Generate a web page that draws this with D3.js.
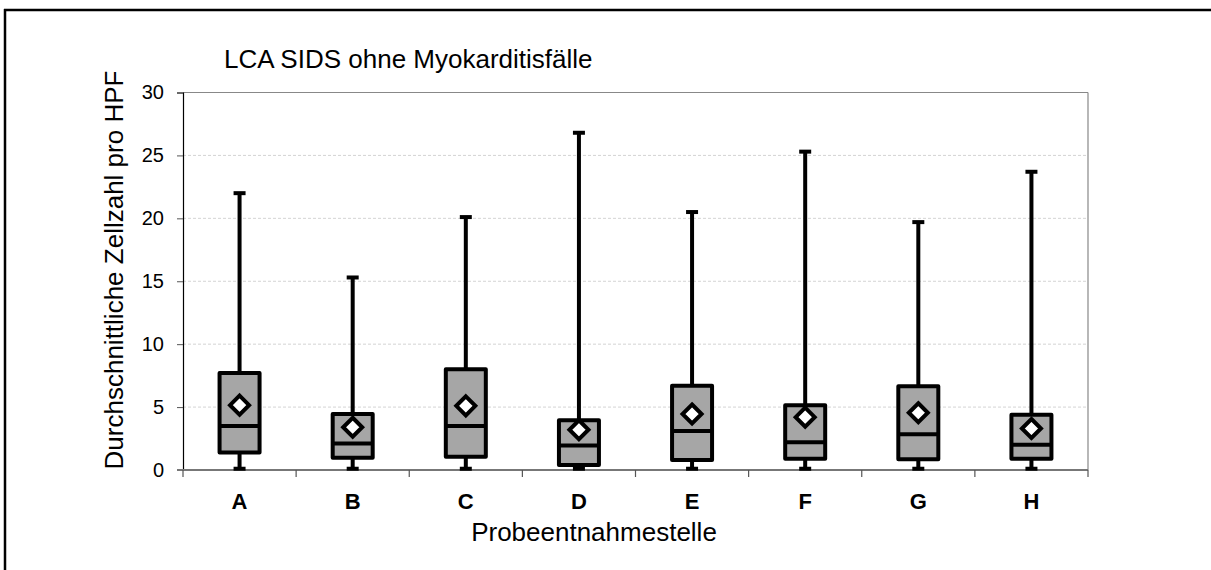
<!DOCTYPE html>
<html>
<head>
<meta charset="utf-8">
<script src="https://cdn.jsdelivr.net/npm/d3@7"></script>
<style>
  body { margin: 0; background: #fff; overflow: hidden; }
  svg { display: block; font-family: "Liberation Sans", Arial, sans-serif; }
</style>
</head>
<body>
<div id="chart"></div>
<script>
// ---- data ----
const categories = ["A", "B", "C", "D", "E", "F", "G", "H"];
const minVals    = [0.1, 0.1, 0.1, 0.1, 0.1, 0.1, 0.1, 0.1];
const q1Vals     = [1.4, 0.98, 1.05, 0.4, 0.8, 0.9, 0.85, 0.9];
const medianVals = [3.5, 2.1, 3.5, 1.95, 3.1, 2.2, 2.85, 2.0];
const q3Vals     = [7.7, 4.45, 8.0, 3.95, 6.7, 5.15, 6.65, 4.4];
const maxVals    = [22.0, 15.3, 20.1, 26.8, 20.5, 25.3, 19.7, 23.7];
const meanVals   = [5.15, 3.4, 5.1, 3.2, 4.45, 4.2, 4.55, 3.3];
const yTicks     = [0, 5, 10, 15, 20, 25, 30];

const width = 1211, height = 570;
const plot = { left: 183, right: 1088, top: 92.5, bottom: 470 };

const svg = d3.select("#chart").append("svg")
    .attr("width", width).attr("height", height);

// outer frame: only top and left edges are inside the picture
svg.append("line")
    .attr("x1", 4).attr("x2", width)
    .attr("y1", 10).attr("y2", 10)
    .attr("stroke", "#000").attr("stroke-width", 2.5);
svg.append("line")
    .attr("x1", 5).attr("x2", 5)
    .attr("y1", 9).attr("y2", height)
    .attr("stroke", "#000").attr("stroke-width", 2.5);

const x = d3.scaleBand().domain(categories).range([plot.left, plot.right]);
const y = d3.scaleLinear().domain([0, 30]).range([plot.bottom, plot.top]);

// gridlines
svg.append("g").selectAll("line")
    .data(yTicks.filter(t => t > 0 && t < 30)).enter()
    .append("line")
    .attr("x1", plot.left).attr("x2", plot.right)
    .attr("y1", d => y(d)).attr("y2", d => y(d))
    .attr("stroke", "#d4d4d4").attr("stroke-width", 1)
    .attr("stroke-dasharray", "3,2");

// plot frame (top and right)
svg.append("line")
    .attr("x1", plot.left).attr("x2", plot.right)
    .attr("y1", plot.top).attr("y2", plot.top)
    .attr("stroke", "#888").attr("stroke-width", 1.2);
svg.append("line")
    .attr("x1", plot.right).attr("x2", plot.right)
    .attr("y1", plot.top).attr("y2", plot.bottom)
    .attr("stroke", "#888").attr("stroke-width", 1.2);

// y axis
const yAxis = svg.append("g")
    .attr("transform", `translate(${plot.left},0)`)
    .call(d3.axisLeft(y).tickValues(yTicks).tickSize(6).tickPadding(13));
yAxis.select(".domain").attr("stroke", "#000").attr("stroke-width", 1.2);
yAxis.selectAll(".tick line").attr("stroke", "#555");
yAxis.selectAll("text")
    .style("font-size", "20px").style("font-family", "Liberation Sans, Arial, sans-serif")
    .attr("fill", "#000");

// x axis: ticks between categories, below the axis
svg.append("line")
    .attr("x1", plot.left - 6).attr("x2", plot.right)
    .attr("y1", plot.bottom).attr("y2", plot.bottom)
    .attr("stroke", "#777").attr("stroke-width", 2);
const bounds = categories.map(c => x(c)).concat([plot.right]);
svg.append("g").selectAll("line")
    .data(bounds).enter()
    .append("line")
    .attr("x1", d => d).attr("x2", d => d)
    .attr("y1", plot.bottom).attr("y2", plot.bottom + 7)
    .attr("stroke", "#555").attr("stroke-width", 1.2);

svg.append("g").selectAll("text")
    .data(categories).enter()
    .append("text")
    .attr("x", d => x(d) + x.bandwidth() / 2)
    .attr("y", 509)
    .attr("text-anchor", "middle")
    .style("font-size", "22px").style("font-weight", "bold")
    .text(d => d);

// boxes
const boxW = 40, capW = 12;
const boxes = svg.append("g").selectAll("g")
    .data(categories.map((c, i) => ({
        cat: c, min: minVals[i], q1: q1Vals[i], med: medianVals[i],
        q3: q3Vals[i], max: maxVals[i], mean: meanVals[i]
    })))
    .enter().append("g")
    .attr("transform", d => `translate(${x(d.cat) + x.bandwidth() / 2},0)`);

boxes.append("line")
    .attr("x1", 0).attr("x2", 0)
    .attr("y1", d => y(d.min)).attr("y2", d => y(d.max))
    .attr("stroke", "#000").attr("stroke-width", 4);

boxes.selectAll(".cap")
    .data(d => [d.min, d.max]).enter()
    .append("line").attr("class", "cap")
    .attr("x1", -capW / 2).attr("x2", capW / 2)
    .attr("y1", v => y(v)).attr("y2", v => y(v))
    .attr("stroke", "#000").attr("stroke-width", 4);

boxes.append("rect")
    .attr("x", -boxW / 2).attr("width", boxW)
    .attr("y", d => y(d.q3)).attr("height", d => y(d.q1) - y(d.q3))
    .attr("fill", "#a6a6a6").attr("stroke", "#000").attr("stroke-width", 4)
    .attr("stroke-linejoin", "round");

boxes.append("line")
    .attr("x1", -boxW / 2).attr("x2", boxW / 2)
    .attr("y1", d => y(d.med)).attr("y2", d => y(d.med))
    .attr("stroke", "#000").attr("stroke-width", 4);

const dia = 9.5;
boxes.append("path")
    .attr("d", d => {
        const cy = y(d.mean);
        return `M0,${cy - dia}L${dia},${cy}L0,${cy + dia}L${-dia},${cy}Z`;
    })
    .attr("fill", "#fff").attr("stroke", "#000").attr("stroke-width", 4)
    .attr("stroke-linejoin", "miter");

// texts
svg.append("text")
    .attr("x", 224).attr("y", 68)
    .style("font-size", "26px")
    .text("LCA SIDS ohne Myokarditisfälle");

svg.append("text")
    .attr("transform", "translate(123,270) rotate(-90)")
    .attr("text-anchor", "middle")
    .style("font-size", "26px")
    .text("Durchschnittliche Zellzahl pro HPF");

svg.append("text")
    .attr("x", 594).attr("y", 541)
    .attr("text-anchor", "middle")
    .style("font-size", "26px")
    .text("Probeentnahmestelle");
</script>
</body>
</html>
